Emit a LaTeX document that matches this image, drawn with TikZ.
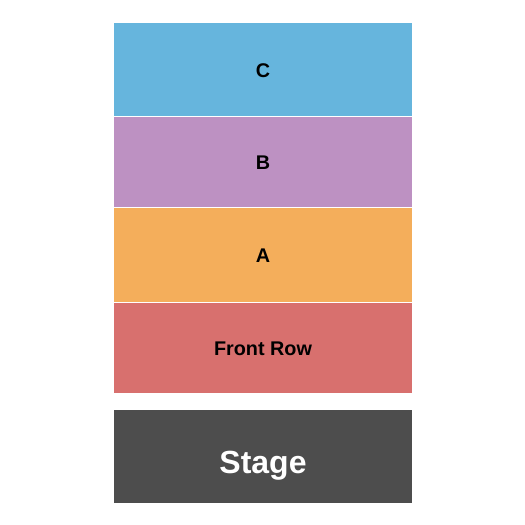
\documentclass[tikz,border=0pt]{standalone}
\usepackage{fontspec}
\setmainfont{Liberation Sans}
\usetikzlibrary{positioning}
\definecolor{secC}{RGB}{102,181,221}
\definecolor{secB}{RGB}{189,145,194}
\definecolor{secA}{RGB}{244,174,91}
\definecolor{secFront}{RGB}{216,112,110}
\definecolor{secStage}{RGB}{77,77,77}

\begin{document}
\begin{tikzpicture}[x=1pt, y=1pt, node distance=1pt,
                    every node/.style={inner sep=0pt, outer sep=0pt, minimum width=298pt,
                      text height=16pt, text depth=0pt,
                      font=\bfseries\fontsize{19.8}{20}\selectfont}]
\useasboundingbox (0,0) rectangle (525,525);

\node[fill=secC, minimum height=93pt, anchor=north west] (c) at (114,502) {C};
\node[fill=secB, minimum height=90pt] (b) [below=of c] {B};
\node[fill=secA, minimum height=94pt] (a) [below=of b] {A};
\node[fill=secFront, minimum height=90pt] (front) [below=of a] {Front Row};

\node[fill=secStage, minimum height=93pt, text=white, text height=34pt,
      font=\bfseries\fontsize{32}{32}\selectfont] (stage) [below=17pt of front] {Stage};
\end{tikzpicture}
\end{document}
